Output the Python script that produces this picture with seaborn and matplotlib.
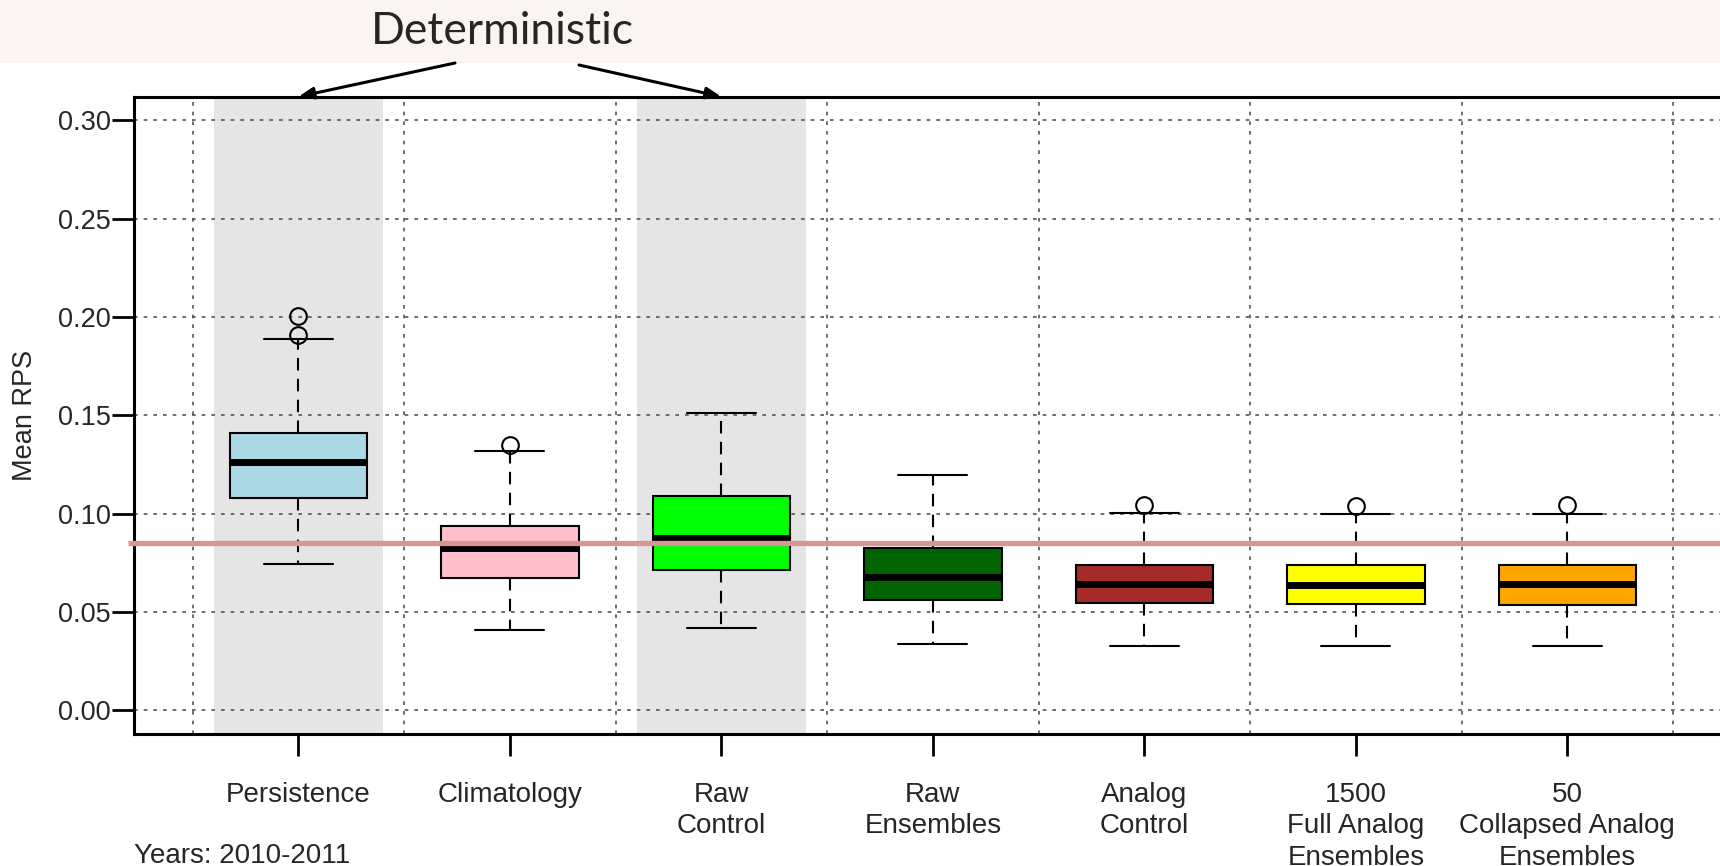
import numpy as np
import pandas as pd
import matplotlib
matplotlib.use("Agg")
import matplotlib.pyplot as plt
import seaborn as sns

# Forecast methods along the x axis
methods = ["Persistence", "Climatology", "Raw\nControl", "Raw\nEnsembles",
           "Analog\nControl", "1500\nFull Analog\nEnsembles",
           "50\nCollapsed Analog\nEnsembles"]
box_colors = ["#ADD8E6", "#FFC0CB", "#00FF00", "#006400",
              "#A52A2A", "#FFFF00", "#FFA500"]

# Five-number summaries of mean RPS per method, plus outlying values
whisker_low = [0.0744, 0.0408, 0.0421, 0.0338, 0.0325, 0.0328, 0.0325]
quart_low = [0.1081, 0.0674, 0.0716, 0.0561, 0.0545, 0.0543, 0.0538]
medians = [0.1262, 0.0825, 0.0876, 0.0676, 0.0643, 0.0640, 0.0642]
quart_high = [0.1410, 0.0940, 0.1090, 0.0828, 0.0740, 0.0737, 0.0737]
whisker_high = [0.1888, 0.1318, 0.1512, 0.1198, 0.1006, 0.1000, 0.1000]
outliers = [[0.1910, 0.2003], [0.1347], [], [], [0.1045], [0.1037], [0.1045]]

reference_level = 0.085
deterministic = ["Persistence", "Raw\nControl"]
y_ticks = [0.00, 0.05, 0.10, 0.15, 0.20, 0.25, 0.30]

# Long-form table whose quartiles and whisker ends reproduce the summaries
rows = []
for m, lo, q1, md, q3, hi, out in zip(methods, whisker_low, quart_low, medians,
                                      quart_high, whisker_high, outliers):
    vals = [lo] + [q1] * 3 + [md] * 3 + [q3] * 3 + [hi] + list(out)
    rows += [(m, v) for v in vals]
df = pd.DataFrame(rows, columns=["method", "rps"])

sns.set_style("white")
plt.rcParams["font.family"] = ["Liberation Sans", "DejaVu Sans"]

W, H = 1720, 866
fig = plt.figure(figsize=(W / 100, H / 100), dpi=100)
fig.patch.set_facecolor("white")

# light banner across the top
fig.add_artist(plt.Rectangle((0, 1 - 63 / H), 1, 63 / H, transform=fig.transFigure,
                             facecolor="#FAF5F2", edgecolor="none", zorder=0))

ax = fig.add_axes([134 / W, 1 - 734 / H, 1 - 134 / W, (734 - 96.7) / H])
ax.set_facecolor("white")

x_left = -0.777
x_right = x_left + (W - 134) / 211.5
ax.set_xlim(x_left, x_right)
ax.set_ylim(-0.012, 0.312)

# shading behind the deterministic forecasts
for name in deterministic:
    i = methods.index(name)
    ax.axvspan(i - 0.4, i + 0.4, color="#E5E5E5", lw=0, zorder=0)

grid_kw = dict(color="#555555", lw=1.2, linestyle=(0, (2.2, 3.6)), zorder=0.6)
for y in y_ticks:
    ax.axhline(y, **grid_kw)
for k in range(len(methods) + 1):
    ax.axvline(k - 0.5, **grid_kw)

sns.boxplot(data=df, x="method", y="rps", hue="method", order=methods,
            hue_order=methods, palette=dict(zip(methods, box_colors)),
            legend=False, saturation=1, width=0.65, linecolor="black",
            linewidth=1.5, whis=1.5, ax=ax,
            medianprops=dict(linewidth=5.0, color="black"),
            whiskerprops=dict(linestyle=(0, (6, 4)), linewidth=1.5),
            capprops=dict(linewidth=1.5),
            flierprops=dict(marker="o", markerfacecolor="none",
                            markeredgecolor="black", markeredgewidth=1.5,
                            markersize=12))

ax.set_xlim(x_left, x_right)
ax.set_ylim(-0.012, 0.312)

# reference RPS level
ax.plot([-0.004, 1.0], [reference_level, reference_level], color="#D99594",
        lw=3.8, transform=ax.get_yaxis_transform(), clip_on=False, zorder=5,
        solid_capstyle="butt")

ax.set_yticks(y_ticks)
ax.set_yticklabels([f"{v:.2f}" for v in y_ticks])
ax.set_xticks(range(len(methods)))
ax.set_xticklabels(methods, linespacing=1.27)
ax.set_xlabel("")
ax.set_ylabel("")
ax.tick_params(axis="y", length=16, width=2, pad=1, labelsize=19.5, color="black")
ax.tick_params(axis="x", length=16, width=2, pad=18.5, labelsize=20, color="black")
ax.tick_params(left=True, bottom=True)

for side in ["left", "bottom", "top"]:
    ax.spines[side].set_visible(True)
    ax.spines[side].set_color("black")
    ax.spines[side].set_linewidth(2.2)
ax.spines["right"].set_visible(False)

fig.text(25 / W, 1 - 415 / H, "Mean RPS", rotation=90, ha="center",
         va="center", fontsize=19.5)
fig.text(134 / W, 10 / H, "Years: 2010-2011", ha="left", va="center",
         fontsize=20)

fig.text(502 / W, 1 - 32 / H, "Deterministic", ha="center", va="center",
         fontsize=32, family=["Lato", "DejaVu Sans"])

for name, tail in [("Persistence", (455, H - 63)), ("Raw\nControl", (579, H - 65))]:
    i = methods.index(name)
    ax.annotate("", xy=(i, 1.0), xycoords=("data", "axes fraction"),
                xytext=tail, textcoords="figure pixels",
                arrowprops=dict(arrowstyle="-|>,head_length=0.9,head_width=0.35",
                                color="black", lw=2.2, shrinkA=0, shrinkB=0),
                annotation_clip=False)

fig.savefig("out.png", dpi=100)
